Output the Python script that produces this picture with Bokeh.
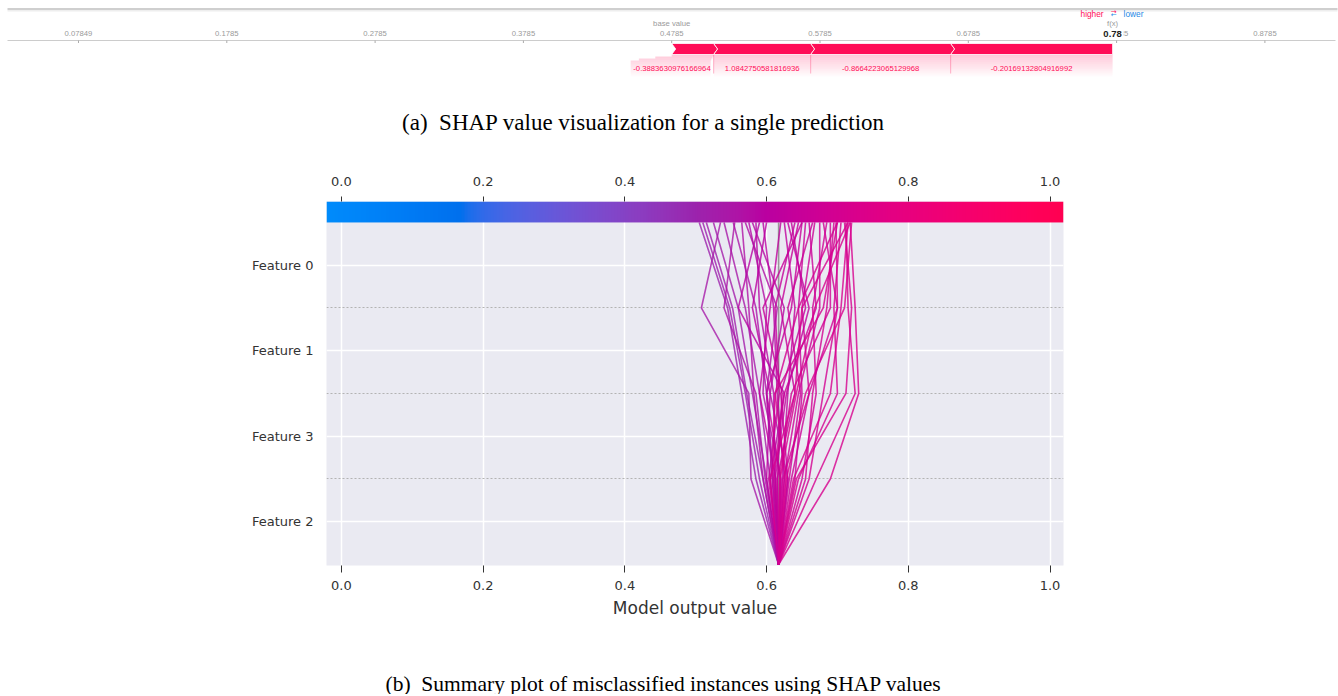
import numpy as np
from bokeh.plotting import figure
from bokeh.layouts import column
from bokeh.models import Range1d, FixedTicker, LinearAxis, PrintfTickFormatter, LinearColorMapper
from bokeh.core.properties import value
from bokeh.embed import file_html
from bokeh.resources import INLINE

# ---------------- data: (a) force plot ----------------
force_ticks = [0.07849, 0.1785, 0.2785, 0.3785, 0.4785, 0.5785, 0.6785, 0.7785, 0.8785]
force_tick_labels = ["0.07849", "0.1785", "0.2785", "0.3785", "0.4785", "0.5785", "0.6785", "0.7785", "0.8785"]
force_base_value = 0.4785
force_effects = [0.0283, 0.0654, 0.0944, 0.1092]
force_feature_values = ["-0.3883630976166964", "1.0842750581816936", "-0.8664223065129968", "-0.20169132804916992"]
force_fx_label = "0.78"

# ---------------- data: (b) decision plot ----------------
decision_features = ["Feature 2", "Feature 3", "Feature 1", "Feature 0"]  # bottom -> top
decision_ticks = [0.0, 0.2, 0.4, 0.6, 0.8, 1.0]
decision_base_value = 0.617
out_after_feature2 = [0.585, 0.590, 0.595, 0.578, 0.600, 0.605, 0.598, 0.610, 0.620, 0.612, 0.625,
                      0.605, 0.630, 0.622, 0.630, 0.615, 0.640, 0.610, 0.635, 0.625, 0.650, 0.618,
                      0.660, 0.645, 0.670, 0.690, 0.628, 0.638, 0.608, 0.620, 0.612, 0.632, 0.603,
                      0.642, 0.655, 0.613, 0.600, 0.595, 0.608, 0.623, 0.605, 0.615, 0.627, 0.619]
out_after_feature3 = [0.565, 0.570, 0.572, 0.575, 0.580, 0.590, 0.585, 0.600, 0.595, 0.610, 0.615,
                      0.625, 0.605, 0.630, 0.620, 0.640, 0.650, 0.625, 0.660, 0.645, 0.670, 0.635,
                      0.680, 0.700, 0.725, 0.730, 0.655, 0.690, 0.612, 0.600, 0.628, 0.648, 0.618,
                      0.712, 0.665, 0.590, 0.605, 0.582, 0.600, 0.660, 0.640, 0.622, 0.612, 0.642]
out_after_feature1 = [0.545, 0.548, 0.552, 0.508, 0.560, 0.570, 0.540, 0.585, 0.600, 0.590, 0.610,
                      0.560, 0.625, 0.640, 0.655, 0.620, 0.645, 0.670, 0.650, 0.675, 0.665, 0.690,
                      0.700, 0.695, 0.715, 0.725, 0.710, 0.705, 0.680, 0.635, 0.660, 0.630, 0.612,
                      0.720, 0.685, 0.605, 0.580, 0.575, 0.615, 0.700, 0.650, 0.595, 0.645, 0.668]
out_after_feature0 = [0.505, 0.510, 0.515, 0.535, 0.525, 0.540, 0.555, 0.553, 0.575, 0.585, 0.595,
                      0.590, 0.580, 0.625, 0.635, 0.645, 0.655, 0.660, 0.668, 0.675, 0.685, 0.690,
                      0.698, 0.705, 0.712, 0.718, 0.720, 0.715, 0.700, 0.650, 0.630, 0.665, 0.640,
                      0.710, 0.695, 0.620, 0.600, 0.565, 0.570, 0.680, 0.715, 0.650, 0.700, 0.718]

caption_a = "(a)\u2002SHAP value visualization for a single prediction"
caption_b = "(b)\u2002Summary plot of misclassified instances using SHAP values"


def shap_red_blue(t):
    """SHAP red_blue colormap (LCH interpolation) -> hex colours."""
    t = np.asarray(t, dtype=float)
    L = np.where(t < 0.5, 54 + (40 - 54) * t / 0.5, 40 + (54 - 40) * (t - 0.5) / 0.5)
    C = 70 + (90 - 70) * t
    H = 4.6588 + (0.35470565 + 2 * np.pi - 4.6588) * t
    a = C * np.cos(H)
    b = C * np.sin(H)
    fy = (L + 16) / 116
    fx = fy + a / 500
    fz = fy - b / 200

    def finv(f):
        return np.where(f ** 3 > 0.008856, f ** 3, (f - 16 / 116) / 7.787)

    X = 0.95047 * finv(fx)
    Y = finv(fy)
    Z = 1.08883 * finv(fz)
    r = 3.2406 * X - 1.5372 * Y - 0.4986 * Z
    g = -0.9689 * X + 1.8758 * Y + 0.0415 * Z
    bb = 0.0557 * X - 0.2040 * Y + 1.0570 * Z
    rgb = np.stack([r, g, bb], -1)
    rgb = np.where(rgb > 0.0031308,
                   1.055 * np.power(np.clip(rgb, 0.0031308, None), 1 / 2.4) - 0.055,
                   12.92 * rgb)
    rgb = np.clip(rgb, 0, 1)
    return ["#%02x%02x%02x" % tuple(int(round(c * 255)) for c in row) for row in np.atleast_2d(rgb)]


W = 1338
SERIF = value("Liberation Serif")

# ======================= (a) force plot =======================
PX = 1483.0                      # screen pixels per output unit
FX0 = 0.0785 - 78 / PX
FX1 = FX0 + W / PX
SANS = value("Liberation Sans")
RED = "#ff0d57"
BLUE = "#1e88e5"

pa = figure(width=W, height=140, x_range=Range1d(FX0, FX1), y_range=Range1d(140, 0),
            output_backend="svg", toolbar_location=None, x_axis_location=None, y_axis_location=None,
            min_border=0, frame_align=False)
pa.grid.visible = False
pa.outline_line_color = None

xl, xr = FX0 + 7 / PX, FX0 + 1335 / PX
pa.segment(x0=[xl], y0=[8.5], x1=[FX0 + 1337 / PX], y1=[8.5], line_color="#cfcfcf", line_width=2)
pa.segment(x0=[xl], y0=[10.3], x1=[FX0 + 1337 / PX], y1=[10.3], line_color="#eeeeee", line_width=1.5)
pa.segment(x0=[xl], y0=[40], x1=[xr], y1=[40], line_color="#cccccc", line_width=1)

pa.segment(x0=force_ticks, y0=[40] * len(force_ticks), x1=force_ticks, y1=[42.5] * len(force_ticks),
           line_color="#aaaaaa", line_width=1)
pa.text(x=force_ticks, y=[33] * len(force_ticks), text=force_tick_labels, text_align="center",
        text_baseline="middle", text_font=SANS, text_font_size="7.7px", text_color="#9a9a9a")

bounds = [force_base_value]
for e in force_effects:
    bounds.append(bounds[-1] + e)
fx_val = bounds[-1]

pa.text(x=[force_base_value], y=[23], text=["base value"], text_align="center", text_baseline="middle",
        text_font=SANS, text_font_size="7.7px", text_color="#9a9a9a")

# label boxes under the bar
n = len(force_effects)
label_boxes = []
for i in range(n):
    if i == 0:
        r = bounds[1] - 3 / PX
        label_boxes.append((r - 80 / PX, r))
    else:
        label_boxes.append((bounds[i], bounds[i + 1]))

ql, qr, qt, qb, qa = [], [], [], [], []
for i in range(n):
    for k in range(11):
        y0 = 54 + 2 * k
        f = min(1.0, (y0 - 54) / 5.0)
        ql.append(bounds[i] + (label_boxes[i][0] - bounds[i]) * f)
        qr.append(bounds[i + 1] + (label_boxes[i][1] - bounds[i + 1]) * f)
        qt.append(y0)
        qb.append(y0 + 2)
        qa.append(0.22 * (1 - k / 11))
pa.quad(left=ql, right=qr, top=qt, bottom=qb, fill_color=RED, fill_alpha=qa, line_color=None)
pa.segment(x0=bounds[1:-1], y0=[54] * (n - 1), x1=bounds[1:-1], y1=[73] * (n - 1),
           line_color=RED, line_alpha=0.3, line_width=1)

# bar segments with chevrons
h = 4 / PX
xs, ys = [], []
for i in range(n):
    x0, x1 = bounds[i], bounds[i + 1]
    if i < n - 1:
        xs.append([x0, x1, x1 + h, x1, x0, x0 + h])
        ys.append([43, 43, 48.5, 54, 54, 48.5])
    else:
        xs.append([x0, x1, x1, x0, x0 + h])
        ys.append([43, 43, 54, 54, 48.5])
pa.patches(xs, ys, fill_color=RED, line_color="white", line_width=0.8)

# feature value labels
lab_x = [label_boxes[0][1]] + [(bounds[i] + bounds[i + 1]) / 2 for i in range(1, n)]
lab_align = ["right"] + ["center"] * (n - 1)
pa.text(x=lab_x, y=[68] * n, text=force_feature_values, text_align=lab_align, text_baseline="middle",
        text_font=SANS, text_font_size="7.7px", text_color=RED)

# f(x) annotations
pa.quad(left=[fx_val - 10 / PX], right=[fx_val + 11 / PX], top=[27], bottom=[39],
        fill_color="white", line_color=None)
pa.text(x=[fx_val], y=[33], text=[force_fx_label], text_align="center", text_baseline="middle",
        text_font=SANS, text_font_size="9.5px", text_font_style="bold", text_color="#222222")
pa.text(x=[fx_val], y=[23], text=["f(x)"], text_align="center", text_baseline="middle",
        text_font=SANS, text_font_size="7.7px", text_color="#9a9a9a")
pa.text(x=[fx_val - 9 / PX], y=[13], text=["higher"], text_align="right", text_baseline="middle",
        text_font=SANS, text_font_size="8.3px", text_color=RED)
pa.text(x=[fx_val + 11 / PX], y=[13], text=["lower"], text_align="left", text_baseline="middle",
        text_font=SANS, text_font_size="8.3px", text_color=BLUE)
pa.text(x=[fx_val + 1 / PX], y=[11.3], text=["\u2192"], text_align="center", text_baseline="middle",
        text_font=value("DejaVu Sans"), text_font_size="7px", text_color=RED)
pa.text(x=[fx_val + 1 / PX], y=[14.7], text=["\u2190"], text_align="center", text_baseline="middle",
        text_font=value("DejaVu Sans"), text_font_size="7px", text_color=BLUE)

# caption (a)
pa.text(x=[FX0 + 643 / PX], y=[122], text=[caption_a], text_align="center", text_baseline="middle",
        text_font=SERIF, text_font_size="23px", text_color="#000000")

# ======================= (b) decision plot =======================
XLO, XHI = -0.021, 1.019
TXT = "#333333"
DV = "DejaVu Sans"

pb = figure(width=W, height=495, x_range=Range1d(XLO, XHI), y_range=Range1d(-0.012, 4.245),
            output_backend="svg", toolbar_location=None, frame_align=False,
            min_border_left=326, min_border_right=275, min_border_top=61, min_border_bottom=70,
            background_fill_color="#eaeaf2")
pb.outline_line_color = None

xticker = FixedTicker(ticks=decision_ticks)
fmt = PrintfTickFormatter(format="%.1f")

xa = pb.xaxis[0]
xa.ticker = xticker
xa.formatter = fmt
xa.axis_line_color = None
xa.major_tick_in = 0
xa.major_tick_out = 7
xa.major_tick_line_color = TXT
xa.minor_tick_line_color = None
xa.major_label_standoff = 8
xa.major_label_text_font = DV
xa.major_label_text_font_size = "13px"
xa.major_label_text_color = TXT
xa.axis_label = "Model output value"
xa.axis_label_text_font = DV
xa.axis_label_text_font_size = "17px"
xa.axis_label_text_font_style = "normal"
xa.axis_label_text_color = TXT
xa.axis_label_standoff = 5

top_axis = LinearAxis(ticker=xticker, formatter=fmt, axis_line_color=None, major_tick_in=0,
                      major_tick_out=5, major_tick_line_color=TXT, minor_tick_line_color=None,
                      major_label_standoff=11, major_label_text_font=DV, major_label_text_font_size="13px",
                      major_label_text_color=TXT)
pb.add_layout(top_axis, "above")

feat_pos = [0.5, 1.5, 2.5, 3.5]
ya = pb.yaxis[0]
ya.ticker = FixedTicker(ticks=feat_pos, minor_ticks=[1.0, 2.0, 3.0])
ya.major_label_overrides = {p: name for p, name in zip(feat_pos, decision_features)}
ya.axis_line_color = None
ya.major_tick_line_color = None
ya.minor_tick_line_color = None
ya.major_label_standoff = 7
ya.major_label_text_font = DV
ya.major_label_text_font_size = "13px"
ya.major_label_text_color = TXT

pb.xgrid.grid_line_color = "white"
pb.xgrid.grid_line_width = 1.5
pb.ygrid.grid_line_color = "white"
pb.ygrid.grid_line_width = 1.5
pb.ygrid.minor_grid_line_color = "#b3b3b3"
pb.ygrid.minor_grid_line_dash = "2 2"
pb.ygrid.minor_grid_line_width = 1

# base value line
pb.line(x=[decision_base_value, decision_base_value], y=[0, 4], line_color="#999999", line_width=1.6)

# decision lines
n_lines = len(out_after_feature0)
line_xs = [[decision_base_value, out_after_feature2[i], out_after_feature3[i],
            out_after_feature1[i], out_after_feature0[i]] for i in range(n_lines)]
line_ys = [[0, 1, 2, 3, 4] for _ in range(n_lines)]
norm = (np.array(out_after_feature0) - XLO) / (XHI - XLO)
line_colors = shap_red_blue(norm)
pb.multi_line(xs=line_xs, ys=line_ys, line_color=line_colors, line_width=1.6, line_alpha=0.8)

# colour bar across the top of the axes
palette = shap_red_blue(np.linspace(0, 1, 256))
cmap = LinearColorMapper(palette=palette, low=0, high=1)
pb.image(image=[np.linspace(0, 1, 512).reshape(1, -1)], x=XLO, y=4.0, dw=XHI - XLO, dh=0.245,
         color_mapper=cmap)

# ======================= caption (b) =======================
pc = figure(width=W, height=59, x_range=Range1d(0, W), y_range=Range1d(59, 0),
            output_backend="svg", toolbar_location=None, x_axis_location=None, y_axis_location=None,
            min_border=0, frame_align=False)
pc.grid.visible = False
pc.outline_line_color = None
pc.text(x=[663], y=[48], text=[caption_b], text_align="center", text_baseline="middle",
        text_font=SERIF, text_font_size="21.5px", text_color="#000000")

layout = column(pa, pb, pc)
open("out.html", "w").write(file_html(layout, INLINE))
